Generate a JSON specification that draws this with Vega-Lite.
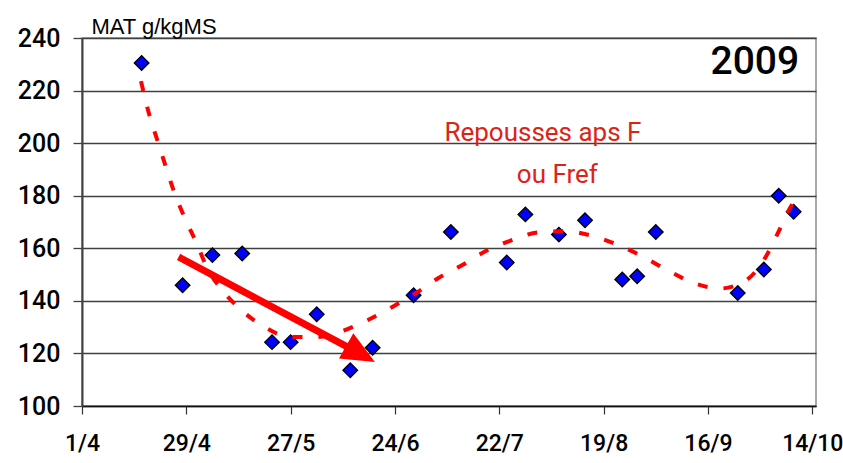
{
  "$schema": "https://vega.github.io/schema/vega-lite/v6.json",
  "width": 734,
  "height": 368,
  "autosize": {"type": "none"},
  "padding": {"left": 82, "top": 38, "right": 27, "bottom": 57},
  "background": "#ffffff",
  "config": {
    "view": {"stroke": "#8a8a8a", "strokeWidth": 1.5, "fill": "#ffffff"},
    "font": "Liberation Sans, Arial"
  },
  "datasets": {
    "points": [
      {"date": "2009-04-17T00:00", "value": 230.5},
      {"date": "2009-04-28T00:00", "value": 145.9},
      {"date": "2009-05-06T00:00", "value": 157.4},
      {"date": "2009-05-14T00:00", "value": 158.0},
      {"date": "2009-05-22T00:00", "value": 124.3},
      {"date": "2009-05-27T00:00", "value": 124.3},
      {"date": "2009-06-03T00:00", "value": 134.9},
      {"date": "2009-06-12T00:00", "value": 113.6},
      {"date": "2009-06-18T00:00", "value": 122.2},
      {"date": "2009-06-29T00:00", "value": 142.1},
      {"date": "2009-07-09T00:00", "value": 166.2},
      {"date": "2009-07-24T00:00", "value": 154.6},
      {"date": "2009-07-29T00:00", "value": 172.9},
      {"date": "2009-08-07T00:00", "value": 165.2},
      {"date": "2009-08-14T00:00", "value": 170.7},
      {"date": "2009-08-24T00:00", "value": 148.1},
      {"date": "2009-08-28T00:00", "value": 149.4},
      {"date": "2009-09-02T00:00", "value": 166.2},
      {"date": "2009-09-24T00:00", "value": 143.0},
      {"date": "2009-10-01T00:00", "value": 151.9},
      {"date": "2009-10-05T00:00", "value": 180.0},
      {"date": "2009-10-09T00:00", "value": 173.9}
    ],
    "curve": [
      {"date": "2009-04-16T20:00", "value": 223.6},
      {"date": "2009-04-19T02:00", "value": 210.7},
      {"date": "2009-04-21T05:00", "value": 201.2},
      {"date": "2009-04-23T12:00", "value": 191.0},
      {"date": "2009-04-25T19:00", "value": 181.2},
      {"date": "2009-04-28T16:00", "value": 171.3},
      {"date": "2009-05-01T19:00", "value": 161.8},
      {"date": "2009-05-04T16:00", "value": 152.3},
      {"date": "2009-05-08T16:00", "value": 144.0},
      {"date": "2009-05-14T04:00", "value": 136.0},
      {"date": "2009-05-19T23:00", "value": 130.1},
      {"date": "2009-05-26T16:00", "value": 126.3},
      {"date": "2009-06-02T14:00", "value": 126.2},
      {"date": "2009-06-09T18:00", "value": 128.5},
      {"date": "2009-06-16T13:00", "value": 132.6},
      {"date": "2009-06-23T07:00", "value": 137.7},
      {"date": "2009-06-29T13:00", "value": 142.9},
      {"date": "2009-07-05T16:00", "value": 148.7},
      {"date": "2009-07-12T10:00", "value": 153.9},
      {"date": "2009-07-19T02:00", "value": 159.5},
      {"date": "2009-07-25T19:00", "value": 163.3},
      {"date": "2009-08-01T17:00", "value": 166.1},
      {"date": "2009-08-08T17:00", "value": 166.5},
      {"date": "2009-08-16T00:00", "value": 164.7},
      {"date": "2009-08-23T00:00", "value": 161.2},
      {"date": "2009-08-29T17:00", "value": 156.7},
      {"date": "2009-09-05T10:00", "value": 151.4},
      {"date": "2009-09-12T14:00", "value": 146.6},
      {"date": "2009-09-19T07:00", "value": 144.7},
      {"date": "2009-09-26T00:00", "value": 147.6},
      {"date": "2009-10-01T02:00", "value": 155.7},
      {"date": "2009-10-04T12:00", "value": 165.0},
      {"date": "2009-10-07T17:00", "value": 174.5},
      {"date": "2009-10-08T22:00", "value": 177.5}
    ],
    "arrow": [
      {"date": "2009-04-26T22:00", "value": 156.7, "date2": "2009-06-14T18:00", "value2": 119.8}
    ],
    "head": [
      {"date": "2009-06-14T18:00", "value": 119.8}
    ],
    "redtext": [
      {"date": "2009-08-02T17:00", "value": 203.8, "label": "Repousses aps F"},
      {"date": "2009-08-06T14:00", "value": 187.8, "label": "ou Fref"}
    ],
    "year": [
      {"date": "2009-09-28T14:00", "value": 230.7, "label": "2009"}
    ]
  },
  "layer": [
    {
      "data": {"name": "arrow"},
      "mark": {"type": "rule", "color": "#ff0000", "strokeWidth": 7, "strokeCap": "butt"},
      "encoding": {
        "x": {
          "field": "date",
          "type": "temporal",
          "scale": {"domain": [{"year": 2009, "month": 4, "date": 1}, {"year": 2009, "month": 10, "date": 15}]},
          "axis": {
            "title": null,
            "values": [
              {"year": 2009, "month": 4, "date": 1},
              {"year": 2009, "month": 4, "date": 29},
              {"year": 2009, "month": 5, "date": 27},
              {"year": 2009, "month": 6, "date": 24},
              {"year": 2009, "month": 7, "date": 22},
              {"year": 2009, "month": 8, "date": 19},
              {"year": 2009, "month": 9, "date": 16},
              {"year": 2009, "month": 10, "date": 14}
            ],
            "format": "%-d/%-m",
            "grid": false,
            "domainColor": "#111111",
            "domainWidth": 1.5,
            "tickColor": "#333333",
            "tickWidth": 1.2,
            "tickSize": 8,
            "labelPadding": 18,
            "labelFontSize": 23,
            "labelFontWeight": 500,
            "labelColor": "#000000",
            "labelFont": "Roboto",
            "labelOverlap": false,
            "labelFlush": false
          }
        },
        "y": {
          "field": "value",
          "type": "quantitative",
          "scale": {"domain": [100, 240], "nice": false, "zero": false},
          "axis": {
            "title": "MAT g/kgMS",
            "titleAngle": 0,
            "titleAlign": "left",
            "titleBaseline": "alphabetic",
            "titleX": 9,
            "titleY": -5,
            "titleFontSize": 22,
            "titleFontWeight": "normal",
            "titleColor": "#000000",
            "titleFont": "Liberation Sans, Arial",
            "values": [100, 120, 140, 160, 180, 200, 220, 240],
            "grid": true,
            "gridColor": "#404040",
            "gridWidth": 1.3,
            "domainColor": "#404040",
            "domainWidth": 2,
            "tickColor": "#404040",
            "tickWidth": 1.3,
            "tickSize": 9,
            "labelPadding": 13,
            "labelFontSize": 25,
            "labelFontWeight": 500,
            "labelColor": "#000000",
            "labelFont": "Roboto"
          }
        },
        "x2": {"field": "date2"},
        "y2": {"field": "value2"}
      }
    },
    {
      "data": {"name": "head"},
      "mark": {
        "type": "point",
        "shape": "M1,0L-1,-0.88L-1,0.88Z",
        "angle": 29.5,
        "size": 1089,
        "filled": true,
        "color": "#ff0000",
        "opacity": 1
      },
      "encoding": {
        "x": {"field": "date", "type": "temporal"},
        "y": {"field": "value", "type": "quantitative"}
      }
    },
    {
      "data": {"name": "points"},
      "mark": {
        "type": "point",
        "shape": "diamond",
        "size": 210,
        "filled": true,
        "fill": "#0000ff",
        "stroke": "#000000",
        "strokeWidth": 1.4,
        "opacity": 1
      },
      "encoding": {
        "x": {"field": "date", "type": "temporal"},
        "y": {"field": "value", "type": "quantitative"}
      }
    },
    {
      "data": {"name": "curve"},
      "mark": {
        "type": "line",
        "color": "#ff0000",
        "strokeWidth": 4,
        "strokeDash": [10, 16],
        "strokeCap": "butt",
        "interpolate": "monotone"
      },
      "encoding": {
        "x": {"field": "date", "type": "temporal"},
        "y": {"field": "value", "type": "quantitative"}
      }
    },
    {
      "data": {"name": "redtext"},
      "mark": {
        "type": "text",
        "fontSize": 26,
        "color": "#dc2318",
        "align": "center",
        "baseline": "middle",
        "font": "Roboto"
      },
      "encoding": {
        "x": {"field": "date", "type": "temporal"},
        "y": {"field": "value", "type": "quantitative"},
        "text": {"field": "label"}
      }
    },
    {
      "data": {"name": "year"},
      "mark": {
        "type": "text",
        "fontSize": 39,
        "fontWeight": 500,
        "color": "#000000",
        "align": "center",
        "baseline": "middle",
        "font": "Roboto"
      },
      "encoding": {
        "x": {"field": "date", "type": "temporal"},
        "y": {"field": "value", "type": "quantitative"},
        "text": {"field": "label"}
      }
    }
  ]
}
